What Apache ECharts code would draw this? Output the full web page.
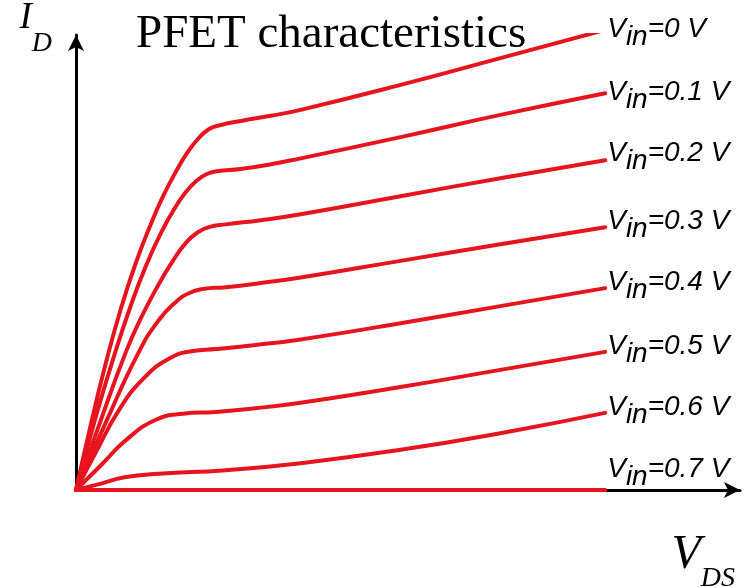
<!DOCTYPE html>
<html>
<head>
<meta charset="utf-8">
<script src="https://cdn.jsdelivr.net/npm/echarts@6/dist/echarts.min.js"></script>
<style>
html,body{margin:0;padding:0;background:#fff;}
#chart{width:751px;height:588px;}
</style>
</head>
<body>
<div id="chart"></div>
<script>
// ---- data (VDS in V, ID in arbitrary units) ----
const vinLabels = ['0', '0.1', '0.2', '0.3', '0.4', '0.5', '0.6', '0.7'];

const curve_0 = [[0,0],[0.03,1.43],[0.06,2.76],[0.09,3.93],[0.12,4.92],[0.15,5.76],[0.174,6.35],[0.20,6.89],[0.224,7.32],[0.246,7.62],[0.266,7.81],[0.286,7.89],[0.33,7.99],[0.39,8.10],[0.45,8.23],[0.65,8.77],[0.85,9.35],[1.06,9.96]];
const curve_1 = [[0,0],[0.04,1.60],[0.08,3.03],[0.11,4.00],[0.14,4.85],[0.17,5.56],[0.196,6.07],[0.22,6.45],[0.242,6.70],[0.262,6.84],[0.282,6.90],[0.33,6.95],[0.39,7.05],[0.45,7.18],[0.65,7.64],[0.85,8.12],[1.06,8.59]];
const curve_2 = [[0,0],[0.05,1.52],[0.10,2.99],[0.13,3.72],[0.166,4.46],[0.194,4.96],[0.22,5.35],[0.244,5.58],[0.266,5.69],[0.30,5.75],[0.37,5.84],[0.45,5.97],[0.65,6.36],[0.85,6.75],[1.06,7.14]];
const curve_3 = [[0,0],[0.06,1.47],[0.126,2.99],[0.166,3.68],[0.20,4.07],[0.226,4.26],[0.254,4.35],[0.30,4.39],[0.37,4.48],[0.45,4.60],[0.65,4.96],[0.85,5.32],[1.06,5.69]];
const curve_4 = [[0,0],[0.04,0.82],[0.086,1.73],[0.134,2.40],[0.186,2.84],[0.234,3.01],[0.28,3.05],[0.36,3.14],[0.45,3.26],[0.65,3.61],[0.85,3.98],[1.06,4.37]];
const curve_5 = [[0,0],[0.054,0.58],[0.10,1.08],[0.16,1.52],[0.214,1.65],[0.28,1.69],[0.36,1.77],[0.45,1.89],[0.65,2.23],[0.85,2.60],[1.06,2.99]];
const curve_6 = [[0,0],[0.04,0.11],[0.10,0.28],[0.166,0.35],[0.30,0.43],[0.45,0.58],[0.65,0.87],[0.85,1.23],[1.06,1.67]];
const curve_7 = [[0,0],[0.5,0],[1.06,0]];

const curves = [curve_0, curve_1, curve_2, curve_3, curve_4, curve_5, curve_6, curve_7];

// ---- style ----
const RED = '#e6141e';
const labelOffsetY = [3.5, 3.5, -2.5, -1.5, -1.5, -1.5, -1.5, -16.5];
const LBL_FS = 28;
const SUB_PAD = 8;
const labelRich = {
  v: {fontFamily: 'Liberation Sans', fontStyle: 'italic', fontSize: LBL_FS, height: LBL_FS, lineHeight: LBL_FS, color: '#000', verticalAlign: 'top'},
  s: {fontFamily: 'Liberation Sans', fontStyle: 'italic', fontSize: LBL_FS, height: LBL_FS, lineHeight: LBL_FS + SUB_PAD, color: '#000', verticalAlign: 'bottom', padding: [SUB_PAD, 0, 0, 0]}
};

const chart = echarts.init(document.getElementById('chart'), null, {renderer: 'canvas'});

const series = curves.map((c, i) => ({
  type: 'line',
  name: 'Vin=' + vinLabels[i] + ' V',
  data: c,
  showSymbol: false,
  symbol: 'none',
  smooth: 0.5,
  lineStyle: {color: RED, width: 4, cap: 'round'},
  z: 3,
  endLabel: {
    show: true,
    distance: 2,
    offset: [0, labelOffsetY[i]],
    formatter: '{v|V}{s|in}{v|=' + vinLabels[i] + ' V}',
    rich: labelRich
  }
}));

chart.setOption({
  animation: false,
  backgroundColor: '#fff',
  title: {
    text: 'PFET characteristics',
    left: 136,
    top: 11,
    padding: 0,
    textStyle: {fontFamily: 'Liberation Serif', fontSize: 47, fontWeight: 'normal', color: '#000'}
  },
  grid: {left: 76, right: 11, top: 35, bottom: 98, containLabel: false, outerBoundsMode: 'none'},
  xAxis: {
    type: 'value',
    min: 0,
    max: 1.33,
    splitLine: {show: false},
    axisTick: {show: false},
    axisLabel: {show: false},
    axisLine: {show: true, onZero: false, symbol: ['none', 'arrow'], symbolSize: [12, 16], lineStyle: {color: '#000', width: 3}},
    name: '{v|V}{s|DS}',
    nameLocation: 'end',
    nameGap: -5,
    nameTextStyle: {
      align: 'right',
      verticalAlign: 'top',
      padding: [41, 0, 0, 0],
      rich: {
        v: {fontFamily: 'Liberation Serif', fontStyle: 'italic', fontSize: 48, height: 48, lineHeight: 48, color: '#000', verticalAlign: 'top'},
        s: {fontFamily: 'Liberation Serif', fontStyle: 'italic', fontSize: 28, height: 28, lineHeight: 62, color: '#000', verticalAlign: 'bottom', padding: [34, 0, 0, 0]}
      }
    }
  },
  yAxis: {
    type: 'value',
    min: 0,
    max: 9.85,
    splitLine: {show: false},
    axisTick: {show: false},
    axisLabel: {show: false},
    axisLine: {show: true, onZero: false, symbol: ['none', 'arrow'], symbolSize: [12, 16], lineStyle: {color: '#000', width: 3}},
    name: '{i|I}{d|D}',
    nameLocation: 'end',
    nameGap: 35,
    nameTextStyle: {
      align: 'right',
      verticalAlign: 'top',
      padding: [0, 24, 0, 0],
      rich: {
        i: {fontFamily: 'Liberation Serif', fontStyle: 'italic', fontSize: 37, height: 36, lineHeight: 36, color: '#000', verticalAlign: 'top'},
        d: {fontFamily: 'Liberation Serif', fontStyle: 'italic', fontSize: 28, height: 28, lineHeight: 58, color: '#000', verticalAlign: 'bottom', padding: [30, 0, 0, 0]}
      }
    }
  },
  series: series
});
</script>
</body>
</html>
